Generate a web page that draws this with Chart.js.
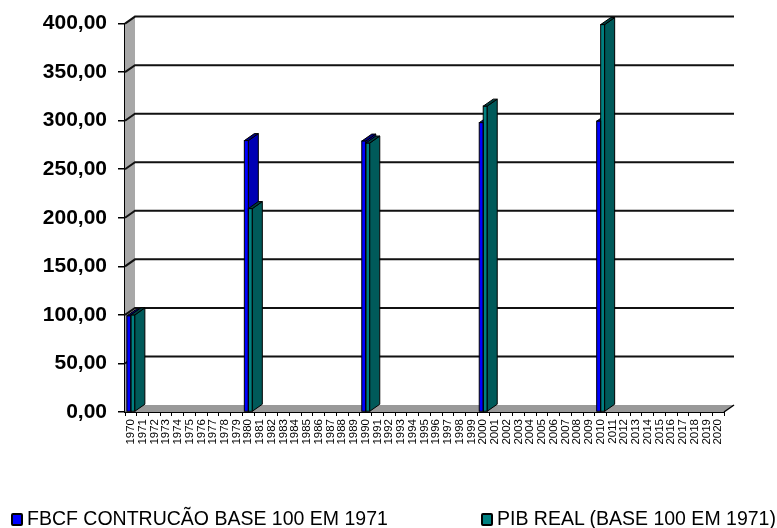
<!DOCTYPE html>
<html>
<head>
<meta charset="utf-8">
<script src="https://cdn.jsdelivr.net/npm/chart.js@4/dist/chart.umd.min.js"></script>
<style>
  html, body { margin: 0; padding: 0; background: #fff; }
  #wrap { position: relative; width: 777px; height: 528px; overflow: hidden; }
  .key { position: absolute; top: 507px; display: flex; align-items: center; height: 22px;
         font: 19.5px "Liberation Sans", Arial, sans-serif; color: #000; white-space: nowrap; }
  .key i { display: block; width: 8px; height: 9px; border: 2px solid #000; border-radius: 2px; margin-right: 4px; margin-top: 2px; }
</style>
</head>
<body>
<div id="wrap">
  <canvas id="chart" width="777" height="528"></canvas>
  <div class="key" style="left:11px"><i style="background:#0000ff"></i><span id="key-a"></span></div>
  <div class="key" style="left:481px"><i style="background:#008080"></i><span id="key-b"></span></div>
</div>
<script>
const years = [
  '1970','1971','1972','1973','1974','1975','1976','1977','1978','1979',
  '1980','1981','1982','1983','1984','1985','1986','1987','1988','1989',
  '1990','1991','1992','1993','1994','1995','1996','1997','1998','1999',
  '2000','2001','2002','2003','2004','2005','2006','2007','2008','2009',
  '2010','2011','2012','2013','2014','2015','2016','2017','2018','2019','2020'
];
const fbcf = [
  99, null, null, null, null, null, null, null, null, null,
  279.5, null, null, null, null, null, null, null, null, null,
  279, null, null, null, null, null, null, null, null, null,
  298, null, null, null, null, null, null, null, null, null,
  299.5, null, null, null, null, null, null, null, null, null, null
];
const pib = [
  100, null, null, null, null, null, null, null, null, null,
  209.5, null, null, null, null, null, null, null, null, null,
  277, null, null, null, null, null, null, null, null, null,
  315, null, null, null, null, null, null, null, null, null,
  399, null, null, null, null, null, null, null, null, null, null
];
const fbcfLabel = 'FBCF CONTRUCÃO BASE 100 EM 1971';
const pibLabel  = 'PIB REAL (BASE 100 EM 1971)';

document.getElementById('key-a').textContent = fbcfLabel;
document.getElementById('key-b').textContent = pibLabel;

// profundidade do efeito 3D
const DX = 10, DY = 7;

function poly(ctx, pts, fill, stroke) {
  ctx.beginPath();
  pts.forEach((p, i) => i ? ctx.lineTo(p[0], p[1]) : ctx.moveTo(p[0], p[1]));
  ctx.closePath();
  if (fill) { ctx.fillStyle = fill; ctx.fill(); }
  if (stroke) { ctx.strokeStyle = stroke; ctx.lineWidth = 1; ctx.stroke(); }
}

// lateral e topo de cada barra
function drawSides(chart, idx, sideColor, topColor) {
  const ctx = chart.ctx, values = chart.data.datasets[idx].data;
  chart.getDatasetMeta(idx).data.forEach((el, i) => {
    if (values[i] === null) return;
    const l = el.x - el.width / 2, r = el.x + el.width / 2;
    poly(ctx, [[r, el.y], [r + DX, el.y - DY], [r + DX, el.base - DY], [r, el.base]], sideColor, '#000');
    poly(ctx, [[l, el.y], [l + DX, el.y - DY], [r + DX, el.y - DY], [r, el.y]], topColor, '#000');
  });
}

// contorno preto da face frontal
function drawOutline(chart, idx) {
  const ctx = chart.ctx, values = chart.data.datasets[idx].data;
  ctx.strokeStyle = '#000'; ctx.lineWidth = 1;
  chart.getDatasetMeta(idx).data.forEach((el, i) => {
    if (values[i] === null) return;
    ctx.strokeRect(el.x - el.width / 2, el.y, el.width, el.base - el.y);
  });
}

const box3d = {
  id: 'box3d',
  beforeDatasetsDraw(chart) {
    const ctx = chart.ctx, a = chart.chartArea, y = chart.scales.y;
    ctx.save();
    // parede esquerda e piso
    poly(ctx, [[a.left, a.top], [a.left + DX, a.top - DY], [a.left + DX, a.bottom - DY], [a.left, a.bottom]], '#a8a8a8');
    poly(ctx, [[a.left, a.bottom], [a.left + DX, a.bottom - DY], [a.right + DX, a.bottom - DY], [a.right, a.bottom]], '#999999');
    ctx.strokeStyle = '#000'; ctx.lineWidth = 1.5;
    ctx.beginPath();
    ctx.moveTo(a.right, a.bottom); ctx.lineTo(a.right + DX, a.bottom - DY);
    ctx.stroke();
    // linhas de grade na parede do fundo
    ctx.strokeStyle = '#111'; ctx.lineWidth = 2;
    y.ticks.forEach(t => {
      if (t.value === 0) return;
      const py = y.getPixelForValue(t.value);
      ctx.beginPath();
      ctx.moveTo(a.left, py);
      ctx.lineTo(a.left + DX, py - DY);
      ctx.lineTo(a.right + DX, py - DY);
      ctx.stroke();
    });
    drawSides(chart, 0, '#0000b4', '#000080');
    ctx.restore();
  },
  afterDatasetsDraw(chart) {
    chart.ctx.save();
    drawOutline(chart, 0);
    drawOutline(chart, 1);
    drawSides(chart, 1, '#005a5a', '#004040');
    chart.ctx.restore();
  }
};

new Chart(document.getElementById('chart'), {
  type: 'bar',
  data: {
    labels: years,
    datasets: [
      { label: fbcfLabel, data: fbcf, backgroundColor: '#0000ff', borderWidth: 0 },
      { label: pibLabel, data: pib, backgroundColor: '#008080', borderWidth: 0 }
    ]
  },
  options: {
    responsive: false,
    animation: false,
    layout: { padding: { top: 22, right: 53, left: 0, bottom: 0 } },
    datasets: { bar: { categoryPercentage: 0.68, barPercentage: 1 } },
    plugins: { legend: { display: false }, tooltip: { enabled: false } },
    scales: {
      x: {
        afterFit: s => { s.height = 116; },
        grid: { drawOnChartArea: false, offset: true, tickLength: 4, color: '#000', lineWidth: 1 },
        border: { color: '#000', width: 2 },
        ticks: {
          autoSkip: false, minRotation: 90, maxRotation: 90, padding: 3, color: '#000',
          font: { family: '"Liberation Sans", Arial, sans-serif', size: 11.5 }
        }
      },
      y: {
        min: 0, max: 400,
        afterFit: s => { s.width = 125; },
        grid: { drawOnChartArea: false, tickLength: 7, color: '#000', lineWidth: 1.5 },
        border: { color: '#000', width: 2 },
        ticks: {
          stepSize: 50, padding: 11, color: '#000',
          font: { family: '"Liberation Sans", Arial, sans-serif', size: 21, weight: 'bold' },
          callback: v => v.toFixed(2).replace('.', ',')
        }
      }
    }
  },
  plugins: [box3d]
});
</script>
</body>
</html>
